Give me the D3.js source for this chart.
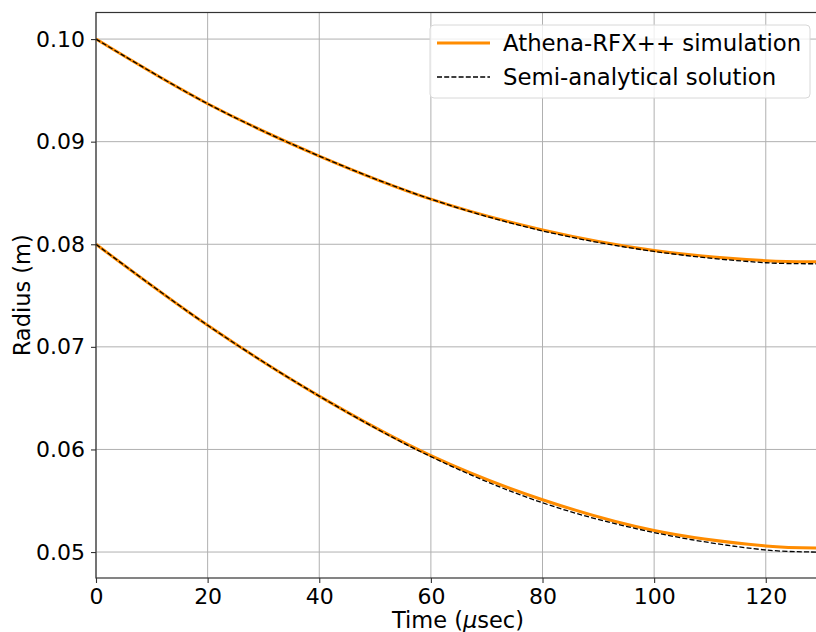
<!DOCTYPE html>
<html lang="en">
  <head>
    <meta charset="UTF-8" />
    <script src="https://d3js.org/d3.v7.min.js"></script>
    <title>Radius vs time</title>
    <style>
      body { margin: 0; background: #fff; }
      text { font-family: "DejaVu Sans", sans-serif; fill: #000; }
    </style>
  </head>
  <body>
    <script>
      // values (time in usec, radius in m)
      let times = [0, 20, 40, 60, 80, 100, 120, 129];
      let simOuter = [0.1, 0.0937, 0.0886, 0.0844, 0.0814, 0.0794, 0.0784, 0.0783];
      let simInner = [0.08, 0.0721, 0.0652, 0.0594, 0.0551, 0.0521, 0.0506, 0.0504];
      let anaOuter = [0.1, 0.0937, 0.0886, 0.0844, 0.0813, 0.0793, 0.0782, 0.0781];
      let anaInner = [0.08, 0.0721, 0.0652, 0.0593, 0.0548, 0.0519, 0.0502, 0.05];
      let xTicks = [0, 20, 40, 60, 80, 100, 120];
      let yTicks = [0.05, 0.06, 0.07, 0.08, 0.09, 0.1];
      let legendLabels = ["Athena-RFX++ simulation", "Semi-analytical solution"];

      const W = 816, H = 632;
      const mLeft = 96, mTop = 12.5, mBottom = 578, mRight = 816;

      let svg = d3.select("body").append("svg")
        .attr("width", W).attr("height", H);

      let x = d3.scaleLinear().domain([0, 129]).range([mLeft, mRight]);
      let y = d3.scaleLinear().domain([0.04747, 0.10259]).range([mBottom, mTop]);

      // grid
      let grid = svg.append("g").attr("stroke", "#b0b0b0").attr("stroke-width", 1);
      xTicks.forEach(t => {
        grid.append("line")
          .attr("x1", x(t)).attr("x2", x(t))
          .attr("y1", mTop).attr("y2", mBottom);
      });
      yTicks.forEach(t => {
        grid.append("line")
          .attr("x1", mLeft).attr("x2", mRight)
          .attr("y1", y(t)).attr("y2", y(t));
      });

      let line = d3.line()
        .x((d, i) => x(times[i]))
        .y(d => y(d))
        .curve(d3.curveCatmullRom.alpha(0.5));

      let plot = svg.append("g");
      [simOuter, simInner].forEach(s => {
        plot.append("path").attr("d", line(s))
          .attr("fill", "none").attr("stroke", "#ff8c00").attr("stroke-width", 3);
      });
      [anaOuter, anaInner].forEach(s => {
        plot.append("path").attr("d", line(s))
          .attr("fill", "none").attr("stroke", "#000")
          .attr("stroke-width", 1.3).attr("stroke-dasharray", "5,2.2");
      });

      // axes
      let xAxis = d3.axisBottom(x).tickValues(xTicks).tickSize(5).tickPadding(5)
        .tickFormat(d3.format("d"));
      let yAxis = d3.axisLeft(y).tickValues(yTicks).tickSize(5).tickPadding(6)
        .tickFormat(d3.format(".2f"));

      let gx = svg.append("g").attr("transform", `translate(0,${mBottom})`).call(xAxis);
      let gy = svg.append("g").attr("transform", `translate(${mLeft},0)`).call(yAxis);
      [gx, gy].forEach(g => {
        g.select(".domain").remove();
        g.selectAll("line").attr("stroke", "#333").attr("stroke-width", 1.1);
        g.selectAll("text").style("font-size", "22px")
          .style("font-family", "DejaVu Sans, sans-serif").attr("fill", "#000");
      });

      // frame
      svg.append("rect")
        .attr("x", mLeft).attr("y", mTop)
        .attr("width", mRight - mLeft + 5).attr("height", mBottom - mTop)
        .attr("fill", "none").attr("stroke", "#333").attr("stroke-width", 1.2);

      // axis labels
      let xl = svg.append("text")
        .attr("x", 458).attr("y", 628)
        .attr("text-anchor", "middle").style("font-size", "22.5px");
      xl.append("tspan").text("Time (");
      xl.append("tspan").attr("font-style", "italic").text("\u03bc");
      xl.append("tspan").text("sec)");

      svg.append("text")
        .attr("transform", `translate(30,${(mTop + mBottom) / 2}) rotate(-90)`)
        .attr("text-anchor", "middle").style("font-size", "22.5px")
        .text("Radius (m)");

      // legend
      let lg = svg.append("g");
      lg.append("rect")
        .attr("x", 430).attr("y", 25).attr("width", 380).attr("height", 73)
        .attr("rx", 4).attr("fill", "#fff").attr("fill-opacity", 0.8)
        .attr("stroke", "#d8d8d8").attr("stroke-width", 1);
      let styles = [
        { stroke: "#ff8c00", w: 3, dash: null },
        { stroke: "#000", w: 1.3, dash: "5,2.2" }
      ];
      legendLabels.forEach((lab, i) => {
        let cy = 43 + i * 34;
        lg.append("line")
          .attr("x1", 437).attr("x2", 490).attr("y1", cy).attr("y2", cy)
          .attr("stroke", styles[i].stroke).attr("stroke-width", styles[i].w)
          .attr("stroke-dasharray", styles[i].dash);
        lg.append("text")
          .attr("x", 503).attr("y", cy + 8)
          .style("font-size", "22.8px").text(lab);
      });
    </script>
  </body>
</html>
